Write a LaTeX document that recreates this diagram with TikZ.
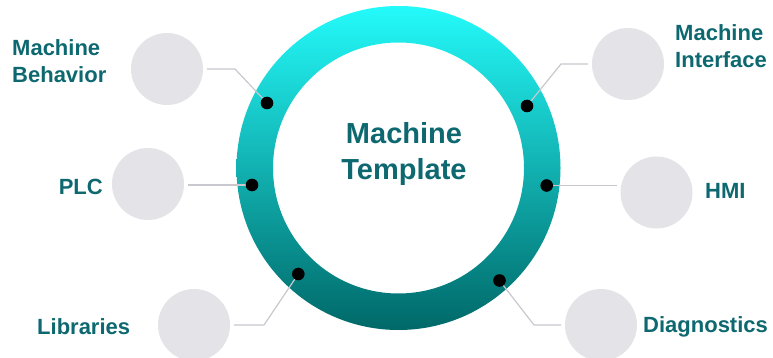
\documentclass[tikz,border=0pt]{standalone}
\usepackage{fontspec}
\setmainfont{Liberation Sans}
\definecolor{ringtop}{RGB}{36,250,250}
\definecolor{ringbot}{RGB}{0,104,104}
\definecolor{labelteal}{RGB}{13,104,112}
\definecolor{bubble}{RGB}{228,227,232}
\definecolor{leader}{RGB}{200,200,206}
\tikzset{
  bubblenode/.style={circle, fill=bubble, minimum size=72pt, inner sep=0pt, outer sep=4pt},
  ringdot/.style={circle, fill=black, minimum size=12.6pt, inner sep=0pt},
  leaderline/.style={draw=leader, line width=1.2pt},
  sidelabel/.style={text=labelteal, font=\fontsize{22}{27}\selectfont\bfseries, inner sep=0pt, align=left},
  hublabel/.style={text=labelteal, font=\fontsize{29}{36}\selectfont\bfseries, inner sep=0pt, align=center}
}
\begin{document}
\begin{tikzpicture}[x=1pt, y=-1pt]
  \useasboundingbox (0,0) rectangle (773,358);

  % gradient ring
  \path[top color=ringtop, bottom color=ringbot, even odd rule]
    (398.5,168) circle[radius=162pt] (398.5,168) circle[radius=125.5pt];

  % grey bubbles
  \node[bubblenode] (bBeh) at (167,69) {};
  \node[bubblenode] (bPLC) at (148,184) {};
  \node[bubblenode] (bLib) at (194,325) {};
  \node[bubblenode] (bInt) at (628,64) {};
  \node[bubblenode] (bHMI) at (656.5,192.5) {};
  \node[bubblenode] (bDia) at (601,325) {};

  % dots on the ring
  \coordinate (dBeh) at (267,103);
  \coordinate (dPLC) at (252,185);
  \coordinate (dLib) at (298.3,274);
  \coordinate (dInt) at (527,106);
  \coordinate (dHMI) at (546.7,185.5);
  \coordinate (dDia) at (499.5,280.5);

  % leader lines
  \draw[leaderline] (bBeh.east) -- ++(28,0) -- (dBeh);
  \draw[leaderline] (bPLC.east |- dPLC) -- (dPLC);
  \draw[leaderline] (bLib.east) -- ++(30,0) -- (dLib);
  \draw[leaderline] (bInt.west) -- ++(-27,0) -- (dInt);
  \draw[leaderline] (bHMI.west |- dHMI) -- (dHMI);
  \draw[leaderline] (bDia.west) -- ++(-27,0) -- (dDia);

  \foreach \d in {dBeh,dPLC,dLib,dInt,dHMI,dDia}
    \node[ringdot] at (\d) {};

  % labels (base anchor sits on the last line)
  \node[hublabel, anchor=base] (hub) at (404,180) {Machine\\Template};
  \node[sidelabel, anchor=base west] (lBeh) at (12,83) {Machine\\Behavior};
  \node[sidelabel, anchor=base east] (lPLC) at (103,194) {PLC};
  \node[sidelabel, anchor=base west] (lLib) at (37,334) {Libraries};
  \node[sidelabel, anchor=base west] (lInt) at (675,68) {Machine\\Interface};
  \node[sidelabel, anchor=base west] (lHMI) at (705,199) {HMI};
  \node[sidelabel, anchor=base west] (lDia) at (643,332) {Diagnostics};
\end{tikzpicture}
\end{document}
